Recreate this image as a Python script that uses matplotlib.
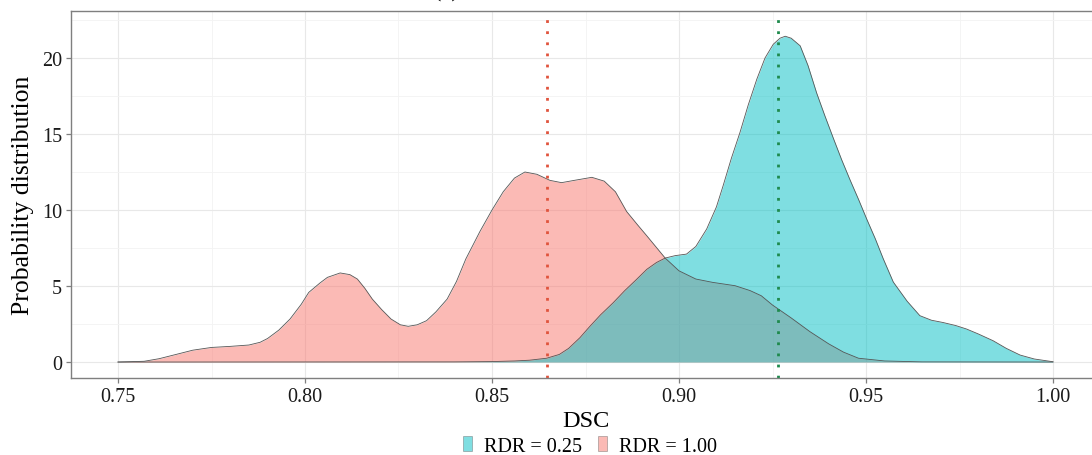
import matplotlib
matplotlib.use("Agg")
import matplotlib.pyplot as plt
from matplotlib.patches import Patch
from matplotlib.ticker import MultipleLocator

plt.rcParams["font.family"] = ["Liberation Serif", "DejaVu Serif"]

# density, RDR = 1.00 (pink)
dsc_100 = [0.750, 0.757, 0.761, 0.766, 0.770, 0.775, 0.780, 0.785, 0.788, 0.790,
           0.793, 0.796, 0.799, 0.801, 0.804, 0.806, 0.8094, 0.812, 0.814, 0.816,
           0.818, 0.8205, 0.823, 0.8255, 0.8276, 0.830, 0.8325, 0.835, 0.838, 0.8405,
           0.843, 0.8468, 0.850, 0.853, 0.856, 0.8588, 0.862, 0.8655, 0.8686, 0.872,
           0.8767, 0.880, 0.883, 0.886, 0.889, 0.8914, 0.8963, 0.900, 0.9045, 0.909,
           0.915, 0.919, 0.922, 0.925, 0.930, 0.935, 0.940, 0.944, 0.948, 0.955,
           0.965, 1.000]
dens_100 = [0.00, 0.05, 0.22, 0.53, 0.78, 0.96, 1.03, 1.12, 1.30, 1.55,
            2.10, 2.83, 3.80, 4.58, 5.20, 5.57, 5.86, 5.75, 5.46, 4.85,
            4.14, 3.45, 2.83, 2.45, 2.35, 2.45, 2.72, 3.30, 4.14, 5.30,
            6.78, 8.60, 10.0, 11.2, 12.1, 12.5, 12.35, 11.95, 11.8, 11.95,
            12.15, 11.9, 11.2, 9.9, 9.0, 8.3, 6.84, 6.00, 5.46, 5.24,
            5.02, 4.70, 4.36, 3.75, 2.90, 2.00, 1.20, 0.65, 0.25, 0.07,
            0.01, 0.00]

# density, RDR = 0.25 (teal)
dsc_025 = [0.750, 0.840, 0.850, 0.856, 0.860, 0.8646, 0.868, 0.8705, 0.8735, 0.876,
           0.879, 0.8824, 0.8855, 0.8885, 0.8914, 0.894, 0.8963, 0.899, 0.902, 0.9045,
           0.9074, 0.910, 0.9118, 0.914, 0.9163, 0.9185, 0.9208, 0.923, 0.9252, 0.927,
           0.9284, 0.930, 0.9324, 0.9345, 0.9368, 0.939, 0.9413, 0.9435, 0.9457, 0.948,
           0.9502, 0.9525, 0.9546, 0.9573, 0.961, 0.9644, 0.9675, 0.9706, 0.974, 0.9769,
           0.980, 0.984, 0.9875, 0.9912, 0.995, 1.000]
dens_025 = [0.00, 0.01, 0.03, 0.07, 0.12, 0.25, 0.50, 0.90, 1.60, 2.30,
            3.10, 3.90, 4.70, 5.40, 6.10, 6.55, 6.84, 7.00, 7.10, 7.60,
            8.75, 10.2, 11.6, 13.4, 15.1, 16.9, 18.6, 20.0, 20.9, 21.3,
            21.43, 21.3, 20.8, 19.5, 17.7, 16.2, 14.7, 13.3, 12.0, 10.7,
            9.4, 8.1, 6.8, 5.26, 4.0, 3.05, 2.75, 2.6, 2.4, 2.17,
            1.85, 1.4, 0.9, 0.46, 0.2, 0.02]

mean_100 = 0.8646
mean_025 = 0.9264

labels = ["RDR = 0.25", "RDR = 1.00"]
teal = "#00BFC4"
pink = "#F8766D"

fig = plt.figure(figsize=(10.92, 4.56), dpi=100)
ax = fig.add_axes([71.25 / 1092, 1 - 379 / 456, 1028.5 / 1092, 367 / 456])

ax.fill_between(dsc_100, dens_100, color=pink, alpha=0.5, lw=0)
ax.plot(dsc_100, dens_100, color="#555555", lw=0.6)
ax.fill_between(dsc_025, dens_025, color=teal, alpha=0.5, lw=0)
ax.plot(dsc_025, dens_025, color="#555555", lw=0.6)

ax.axvline(mean_100, color="#E0533C", lw=2, ls=(0, (1, 3)))
ax.axvline(mean_025, color="#1E8A4C", lw=2, ls=(0, (1, 3)))

ax.set_xlim(0.7375, 1.0125)
ax.set_ylim(-1.05, 23.09)
ax.set_xticks([0.75, 0.80, 0.85, 0.90, 0.95, 1.00])
ax.set_xticklabels(["0.75", "0.80", "0.85", "0.90", "0.95", "1.00"])
ax.set_yticks([0, 5, 10, 15, 20])
ax.xaxis.set_minor_locator(MultipleLocator(0.025))
ax.yaxis.set_minor_locator(MultipleLocator(2.5))

ax.set_axisbelow(True)
ax.grid(which="major", color="#e8e8e8", lw=0.8)
ax.grid(which="minor", color="#f3f3f3", lw=0.6)
ax.tick_params(which="minor", length=0)
ax.tick_params(which="major", direction="out", length=3.5, width=0.9,
               color="#7f7f7f", labelsize=14.5, labelcolor="#1a1a1a", pad=3)
for s in ax.spines.values():
    s.set_color("#7f7f7f")
    s.set_linewidth(1.0)

ax.set_xlabel("DSC", fontsize=17.5, labelpad=3)
ax.set_ylabel("Probability distribution", fontsize=18.5, labelpad=6)

fig.text(447 / 1092, 1 + 3 / 456, "(a)", fontsize=18, ha="center", va="baseline")

handles = [Patch(facecolor=teal, alpha=0.5, edgecolor="#4d4d4d", lw=0.5),
           Patch(facecolor=pink, alpha=0.5, edgecolor="#4d4d4d", lw=0.5)]
fig.legend(handles, labels, loc="center", bbox_to_anchor=(590 / 1092, 1 - 447 / 456),
           ncol=2, frameon=False, fontsize=14.5, handlelength=0.45, handleheight=0.75,
           handletextpad=0.6, columnspacing=0.75, borderaxespad=0, borderpad=0)

fig.savefig("out.png", dpi=100)
